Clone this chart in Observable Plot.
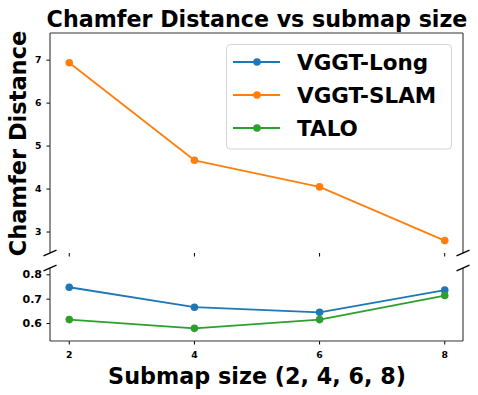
<!DOCTYPE html>
<html>
<head>
<meta charset="utf-8">
<script src="https://cdn.jsdelivr.net/npm/d3@7"></script>
<script src="https://cdn.jsdelivr.net/npm/@observablehq/plot@0.6"></script>
<style>
  html, body { margin: 0; padding: 0; background: #fff; }
  #chart { position: relative; width: 478px; height: 395px; font-family: "DejaVu Sans", sans-serif; }
  #chart > div { position: absolute; left: 0; }
  svg { overflow: visible; }
</style>
</head>
<body>
<div id="chart">
  <div id="top" style="top:0"></div>
  <div id="bottom" style="top:262px"></div>
  <div id="legend" style="top:0"></div>
</div>
<script>
// ---- data ----
const submapSizes = [2, 4, 6, 8];
const seriesNames = ["VGGT-Long", "VGGT-SLAM", "TALO"];
const seriesColors = ["#1f77b4", "#ff7f0e", "#2ca02c"];
const vggtLong = [0.749, 0.667, 0.646, 0.737];
const vggtSlam = [6.94, 4.67, 4.05, 2.80];
const talo = [0.616, 0.580, 0.616, 0.715];
const topTicks = [3, 4, 5, 6, 7];
const bottomTicks = [0.6, 0.7, 0.8];
const xTicks = [2, 4, 6, 8];
const titleText = "Chamfer Distance vs submap size";
const yLabelText = "Chamfer Distance";
const xLabelText = "Submap size (2, 4, 6, 8)";

const seriesValues = [vggtLong, vggtSlam, talo];
const rows = [];
seriesNames.forEach((s, i) => submapSizes.forEach((x, j) => rows.push({series: s, size: x, value: seriesValues[i][j]})));

// spines + break marks drawn from the frame dimensions
function spines(sides, breakAt) {
  return (index, scales, values, dims) => {
    const x0 = dims.marginLeft, x1 = dims.width - dims.marginRight;
    const y0 = dims.marginTop, y1 = dims.height - dims.marginBottom;
    const g = d3.create("svg:g").attr("fill", "none");
    const seg = (a, b, c, d, w, col) => g.append("line").attr("x1", a).attr("y1", b).attr("x2", c).attr("y2", d)
      .attr("stroke", col).attr("stroke-width", w);
    if (sides.includes("left")) seg(x0, y0, x0, y1, 1.1, "#333");
    if (sides.includes("right")) seg(x1, y0, x1, y1, 1.1, "#333");
    if (sides.includes("top")) seg(x0, y0, x1, y0, 1.1, "#333");
    if (sides.includes("bottom")) seg(x0, y1, x1, y1, 1.1, "#333");
    const yb = breakAt === "bottom" ? y1 : y0;
    for (const xc of [x0, x1]) seg(xc - 6.5, yb + 2.8, xc + 6.5, yb - 2.8, 1.3, "#000");
    return g.node();
  };
}

const common = {
  width: 478,
  marginLeft: 50,
  marginRight: 15,
  style: {fontFamily: "DejaVu Sans", fontWeight: "bold", background: "transparent", color: "#000", overflow: "visible"},
  x: {domain: [1.7, 8.3]},
  color: {domain: seriesNames, range: seriesColors}
};

const topPlot = Plot.plot({
  ...common,
  height: 262,
  marginTop: 33,
  marginBottom: 9,
  y: {domain: [2.5, 7.62]},
  marks: [
    Plot.axisY({ticks: topTicks, tickFormat: d3.format("d"), tickSize: 3.5, tickPadding: 5.5, fontSize: 9.3, label: null}),
    Plot.axisX({ticks: xTicks, tickSize: 3.5, tickFormat: () => "", label: null}),
    Plot.line(rows, {x: "size", y: "value", z: "series", stroke: "series", strokeWidth: 1.8, clip: true}),
    Plot.dot(rows, {x: "size", y: "value", fill: "series", r: 3.8, clip: true}),
    spines(["left", "top", "right"], "bottom"),
    Plot.text([titleText], {text: d => d, frameAnchor: "top", dy: -7, lineAnchor: "bottom", fontSize: 22.2, fontWeight: "bold"}),
    Plot.text([yLabelText], {text: d => d, frameAnchor: "left", dx: -25, rotate: -90, textAnchor: "middle", lineAnchor: "bottom", fontSize: 22.5, fontWeight: "bold"})
  ]
});
document.getElementById("top").appendChild(topPlot);

const bottomPlot = Plot.plot({
  ...common,
  height: 133,
  marginTop: 6,
  marginBottom: 54,
  y: {domain: [0.526, 0.826]},
  marks: [
    Plot.axisY({ticks: bottomTicks, tickFormat: d3.format(".1f"), tickSize: 3.5, tickPadding: 5, fontSize: 11, label: null}),
    Plot.axisX({ticks: xTicks, tickFormat: d3.format("d"), tickSize: 3.5, tickPadding: 6, fontSize: 9.3, label: null}),
    Plot.line(rows, {x: "size", y: "value", z: "series", stroke: "series", strokeWidth: 1.8, clip: true}),
    Plot.dot(rows, {x: "size", y: "value", fill: "series", r: 3.8, clip: true}),
    spines(["left", "bottom", "right"], "top"),
    Plot.text([xLabelText], {text: d => d, frameAnchor: "bottom", dy: 42, lineAnchor: "bottom", fontSize: 22.3, fontWeight: "bold"})
  ]
});
document.getElementById("bottom").appendChild(bottomPlot);

// legend
const lg = d3.select("#legend").append("svg").attr("width", 478).attr("height", 395)
  .style("font-family", "DejaVu Sans").style("font-weight", "bold");
lg.append("rect").attr("x", 226.5).attr("y", 44.5).attr("width", 225).attr("height", 104.5)
  .attr("rx", 4).attr("fill", "rgba(255,255,255,0.8)").attr("stroke", "#d4d4d4").attr("stroke-width", 1);
seriesNames.forEach((s, i) => {
  const cy = 62 + i * 33;
  lg.append("line").attr("x1", 233).attr("x2", 280).attr("y1", cy).attr("y2", cy)
    .attr("stroke", seriesColors[i]).attr("stroke-width", 1.8);
  lg.append("circle").attr("cx", 257).attr("cy", cy).attr("r", 3.8).attr("fill", seriesColors[i]);
  lg.append("text").attr("x", 297).attr("y", cy + 8).attr("font-size", 21.5).text(s);
});
</script>
</body>
</html>
